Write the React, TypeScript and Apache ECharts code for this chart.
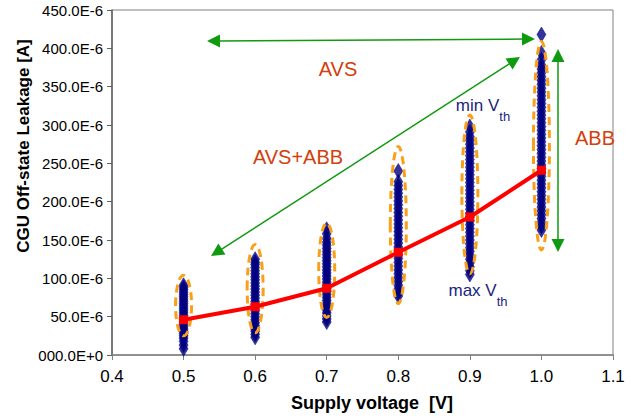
import React, { useEffect, useRef } from "react";
import * as echarts from "echarts";

// Supply voltages (V)
const voltages = [0.5, 0.6, 0.7, 0.8, 0.9, 1.0];
// Mean leakage (in 1E-6 A) per voltage (red line)
const meanLeakage = [46, 63, 87, 134, 180, 241];
// Monte-Carlo leakage samples (in 1E-6 A) per voltage
const leak05 = [8, 13, 18, 22, 25, 28, 31, 34, 37, 40, 43, 46, 49, 52, 55, 58, 61, 64, 67, 70, 73, 76, 79, 82, 85, 88, 91];
const leak06 = [23, 27, 31, 34, 38, 42, 46, 50, 54, 58, 62, 66, 70, 74, 78, 82, 86, 90, 94, 98, 102, 106, 110, 114, 118, 121, 125];
const leak07 = [43, 47, 51, 55, 59, 63, 67, 71, 75, 79, 83, 87, 91, 95, 99, 103, 107, 111, 115, 119, 123, 127, 131, 135, 139, 143, 147, 152, 158, 164];
const leak08 = [77, 81, 86, 91, 96, 101, 106, 111, 116, 121, 126, 131, 136, 141, 146, 151, 156, 161, 166, 171, 176, 181, 186, 191, 196, 201, 206, 211, 216, 221, 226, 240];
const leak09 = [105, 110, 115, 120, 125, 130, 135, 140, 145, 150, 155, 160, 165, 170, 175, 180, 185, 190, 195, 200, 205, 210, 215, 220, 225, 230, 235, 240, 245, 250, 255, 260, 265, 270, 275, 280, 285, 291, 298];
const leak10 = [163, 168, 173, 178, 183, 188, 193, 198, 203, 208, 213, 218, 223, 228, 233, 238, 243, 248, 253, 258, 263, 268, 273, 278, 283, 288, 293, 298, 303, 308, 313, 318, 323, 328, 333, 338, 343, 348, 353, 358, 363, 368, 373, 378, 385, 394, 418];
const leakSamples = [leak05, leak06, leak07, leak08, leak09, leak10];
// Dashed envelope ranges (low, high) in 1E-6 A
const envelopeLow = [25, 29, 49, 67, 106, 137];
const envelopeHigh = [104, 144, 172, 272, 313, 409];

const GREEN = "#109a10";
const ORANGE_RED = "#d2400c";
const NAVY = "#1a2580";
const FONT = "Liberation Sans, Arial, sans-serif";

function arrowHead(tip: number[], from: number[], len = 13, half = 6.5) {
  const dx = tip[0] - from[0];
  const dy = tip[1] - from[1];
  const d = Math.sqrt(dx * dx + dy * dy);
  const ux = dx / d, uy = dy / d;
  const bx = tip[0] - ux * len, by = tip[1] - uy * len;
  return {
    type: "polygon",
    shape: { points: [tip, [bx - uy * half, by + ux * half], [bx + uy * half, by - ux * half]] },
    style: { fill: GREEN },
    silent: true,
  };
}

function doubleArrow(a: number[], b: number[]) {
  const dx = b[0] - a[0], dy = b[1] - a[1];
  const d = Math.sqrt(dx * dx + dy * dy);
  const ux = dx / d, uy = dy / d;
  return [
    {
      type: "line",
      shape: { x1: a[0] + ux * 10, y1: a[1] + uy * 10, x2: b[0] - ux * 10, y2: b[1] - uy * 10 },
      style: { stroke: GREEN, lineWidth: 1.5 },
      silent: true,
    },
    arrowHead(a, b),
    arrowHead(b, a),
  ];
}

export default function App() {
  const ref = useRef<HTMLDivElement>(null);
  useEffect(() => {
    if (!ref.current) return;
    const chart = echarts.init(ref.current, null, { renderer: "svg" });
    const scatterData: number[][] = [];
    voltages.forEach((v, i) => leakSamples[i].forEach((y) => scatterData.push([v, y])));
    const envData = voltages.map((v, i) => [v, envelopeLow[i], envelopeHigh[i]]);
    const subRich = {
      a: { fontSize: 17, fill: NAVY, fontFamily: FONT, lineHeight: 19, verticalAlign: "top" },
      s: { fontSize: 13, fill: NAVY, fontFamily: FONT, lineHeight: 26, verticalAlign: "bottom" },
    };
    chart.setOption({
      animation: false,
      backgroundColor: "#ffffff",
      grid: { left: 112, right: 18, top: 10, bottom: 63, show: true, borderColor: "#808080", borderWidth: 1 },
      xAxis: {
        type: "value",
        min: 0.4,
        max: 1.1,
        interval: 0.1,
        axisLine: { show: true, onZero: false, lineStyle: { color: "#808080", width: 1.5 } },
        axisTick: { show: true, inside: false, length: 5, lineStyle: { color: "#808080" } },
        splitLine: { show: false },
        axisLabel: { fontSize: 17, color: "#000", fontFamily: FONT, margin: 13, formatter: (v: number) => v.toFixed(1) },
      },
      yAxis: {
        type: "value",
        min: 0,
        max: 450,
        interval: 50,
        axisLine: { show: true, lineStyle: { color: "#606060", width: 1.5 } },
        axisTick: { show: true, inside: false, length: 5, lineStyle: { color: "#606060" } },
        splitLine: { show: false },
        axisLabel: {
          fontSize: 15,
          color: "#000",
          fontFamily: FONT,
          margin: 9,
          formatter: (v: number) => (v === 0 ? "000.0E+0" : v.toFixed(1) + "E-6"),
        },
      },
      series: [
        {
          type: "scatter",
          data: scatterData,
          symbol: "diamond",
          symbolSize: [9, 15],
          itemStyle: { color: "#000080", borderColor: "#000080", borderWidth: 0.6 },
          z: 2,
        },
        {
          type: "custom",
          data: envData,
          encode: { x: 0, y: [1, 2] },
          z: 3,
          renderItem: (params: any, api: any) => {
            const top = api.coord([api.value(0), api.value(2)]);
            const bot = api.coord([api.value(0), api.value(1)]);
            return {
              type: "ellipse",
              shape: { cx: top[0], cy: (top[1] + bot[1]) / 2, rx: 8, ry: (bot[1] - top[1]) / 2 },
              style: { fill: "none", stroke: "#f9a01b", lineWidth: 3, lineDash: [8, 5] },
            };
          },
        },
        {
          type: "line",
          data: voltages.map((v, i) => [v, meanLeakage[i]]),
          symbol: "rect",
          symbolSize: 9,
          lineStyle: { color: "#ff0000", width: 4 },
          itemStyle: { color: "#ff0000" },
          z: 4,
        },
      ],
      graphic: [
        ...doubleArrow([207, 41], [535, 39]),
        ...doubleArrow([211, 256], [520, 57]),
        ...doubleArrow([558, 49], [558, 252]),
        { type: "text", x: 338, y: 69, style: { text: "AVS", fill: ORANGE_RED, font: `20px ${FONT}`, align: "center", verticalAlign: "middle" } },
        { type: "text", x: 298, y: 157, style: { text: "AVS+ABB", fill: ORANGE_RED, font: `20px ${FONT}`, align: "center", verticalAlign: "middle" } },
        { type: "text", x: 595, y: 138, style: { text: "ABB", fill: ORANGE_RED, font: `20px ${FONT}`, align: "center", verticalAlign: "middle" } },
        { type: "text", x: 483, y: 110, style: { text: "{a|min V}{s|th}", rich: subRich, align: "center", verticalAlign: "middle" } },
        { type: "text", x: 478, y: 295, style: { text: "{a|max V}{s|th}", rich: subRich, align: "center", verticalAlign: "middle" } },
        {
          type: "text",
          x: 372,
          y: 403,
          style: { text: "Supply voltage  [V]", fill: "#000", font: `bold 18px ${FONT}`, align: "center", verticalAlign: "middle" },
        },
        {
          type: "text",
          x: 23,
          y: 146,
          rotation: Math.PI / 2,
          style: { text: "CGU Off-state Leakage [A]", fill: "#000", font: `bold 17px ${FONT}`, align: "center", verticalAlign: "middle" },
        },
      ],
    });
    return () => chart.dispose();
  }, []);
  return <div ref={ref} style={{ position: "fixed", left: 0, top: 0, width: 631, height: 418 }} />;
}
